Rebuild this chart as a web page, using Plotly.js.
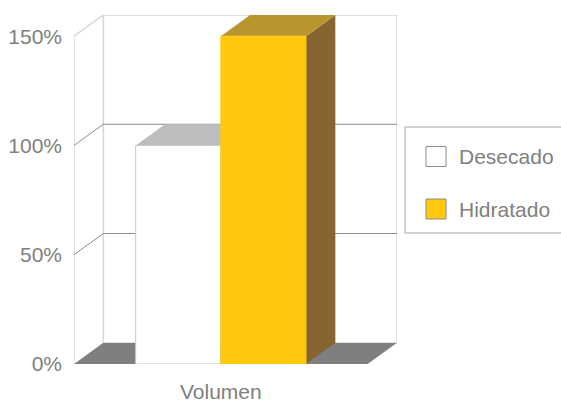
<!DOCTYPE html>
<html>
<head>
<meta charset="utf-8">
<script src="https://cdn.plot.ly/plotly-3.0.1.min.js"></script>
<style>html,body{margin:0;padding:0;background:#fff;}#chart{width:561px;height:402px;}</style>
</head>
<body>
<div id="chart"></div>
<script>
// ---- data ----
const categories = ['Volumen'];
const seriesNames = ['Desecado', 'Hidratado'];
const desecado = [100];
const hidratado = [150];
const yTickVals = [0, 50, 100, 150];
const yTickText = ['0%', '50%', '100%', '150%'];

// ---- styles ----
const frontColors = ['#FFFFFF', '#FFC80F'];
const frontLines = ['#C8C8C8', '#FFC80F'];
const topColors = ['#BDBDBD', '#B8962D'];
const sideColors = ['#A0A0A0', '#876530'];
const seriesValues = [desecado, hidratado];

const DX = 0.1;     // depth in x units
const DY = 9.7;     // depth in y units
const BARW = 0.29;
const XMAX = categories.length + DX;
const YTOP = yTickVals[yTickVals.length - 1] + DY;

const M = {l: 74, r: 164, t: 15, b: 38};
const PW = 561 - M.l - M.r, PH = 402 - M.t - M.b;
const px2paperX = p => (p - M.l) / PW;
const py2paperY = p => (402 - M.b - p) / PH;

const fontFam = '"Liberation Sans", Arial, sans-serif';
const textGray = '#808080';
const FS = 21;

const traces = seriesNames.map((name, s) => ({
  type: 'bar',
  name: name,
  x: categories.map((c, i) => i + 0.5),
  y: seriesValues[s],
  width: BARW,
  offset: -BARW * seriesNames.length / 2 + s * BARW,
  marker: {color: frontColors[s], line: {color: frontLines[s], width: 1}},
  showlegend: false,
  hoverinfo: 'skip'
}));

const shapes = [];
const wallLine = {color: '#D6D6D6', width: 1.5};
// back wall outline
shapes.push({type: 'path', xref: 'x', yref: 'y', layer: 'below',
  path: `M${DX},${DY} L${DX},${YTOP} L${XMAX},${YTOP} L${XMAX},${DY}`, line: wallLine});
// left side wall
shapes.push({type: 'path', xref: 'x', yref: 'y', layer: 'below',
  path: `M0,0 L0,${YTOP - DY} L${DX},${YTOP}`, line: wallLine});
// front floor axis
shapes.push({type: 'line', xref: 'x', yref: 'y', layer: 'below',
  x0: 0, x1: categories.length, y0: 0, y1: 0, line: {color: '#D6D6D6', width: 1.5}});
// gridlines (back wall + side diagonal)
yTickVals.slice(1, -1).forEach(v => {
  shapes.push({type: 'path', xref: 'x', yref: 'y', layer: 'below',
    path: `M0,${v} L${DX},${v + DY} L${XMAX},${v + DY}`, line: {color: '#8C8C8C', width: 1}});
});
// floor
shapes.push({type: 'path', xref: 'x', yref: 'y', layer: 'below',
  path: `M0,0 L${categories.length},0 L${XMAX},${DY} L${DX},${DY} Z`,
  fillcolor: '#7F7F7F', line: {width: 0}});
// bar tops and sides
seriesNames.forEach((name, s) => {
  categories.forEach((c, i) => {
    const v = seriesValues[s][i];
    const x0 = i + 0.5 - BARW * seriesNames.length / 2 + s * BARW;
    const x1 = x0 + BARW;
    shapes.push({type: 'path', xref: 'x', yref: 'y', layer: 'below',
      path: `M${x1},0 L${x1 + DX},${DY} L${x1 + DX},${v + DY} L${x1},${v} Z`,
      fillcolor: sideColors[s], line: {width: 0}});
    shapes.push({type: 'path', xref: 'x', yref: 'y', layer: 'below',
      path: `M${x0},${v} L${x1},${v} L${x1 + DX},${v + DY} L${x0 + DX},${v + DY} Z`,
      fillcolor: topColors[s], line: {width: 0}});
  });
});

// manual legend
const annotations = [];
shapes.push({type: 'rect', xref: 'paper', yref: 'paper', layer: 'above',
  x0: px2paperX(405), x1: px2paperX(575), y0: py2paperY(233), y1: py2paperY(127),
  line: {color: '#A6A6A6', width: 1}, fillcolor: 'rgba(255,255,255,0)'});
const legendRows = [156.5, 209];
seriesNames.forEach((name, s) => {
  const cy = legendRows[s];
  shapes.push({type: 'rect', xref: 'paper', yref: 'paper', layer: 'above',
    x0: px2paperX(426), x1: px2paperX(446), y0: py2paperY(cy + 10), y1: py2paperY(cy - 10),
    fillcolor: frontColors[s], line: {color: '#8C8C8C', width: 1}});
  annotations.push({xref: 'paper', yref: 'paper', x: px2paperX(457), y: py2paperY(cy),
    xanchor: 'left', yanchor: 'middle', showarrow: false, text: name,
    font: {family: fontFam, size: FS, color: textGray}});
});

const layout = {
  width: 561, height: 402,
  margin: M,
  paper_bgcolor: '#FFFFFF', plot_bgcolor: '#FFFFFF',
  showlegend: false,
  barmode: 'overlay',
  font: {family: fontFam, size: FS, color: textGray},
  xaxis: {range: [0, XMAX], tickvals: categories.map((c, i) => i + 0.5), ticktext: categories,
    showgrid: false, zeroline: false, showline: false, ticks: '', ticklabelstandoff: 13,
    fixedrange: true},
  yaxis: {range: [0, YTOP], tickvals: yTickVals, ticktext: yTickText,
    showgrid: false, zeroline: false, showline: false, ticks: '', ticklabelstandoff: 11,
    fixedrange: true},
  shapes: shapes,
  annotations: annotations
};

Plotly.newPlot('chart', traces, layout, {staticPlot: true, displayModeBar: false});
</script>
</body>
</html>
